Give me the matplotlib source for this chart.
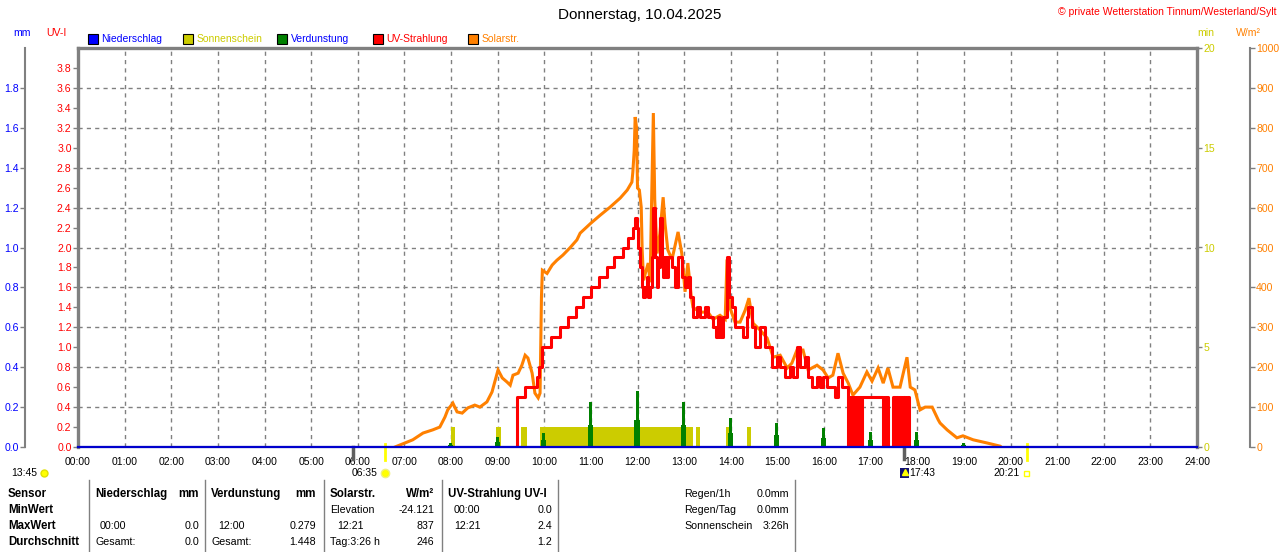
import matplotlib
matplotlib.use("Agg")
import matplotlib.pyplot as plt
from matplotlib.patches import Rectangle
from matplotlib.lines import Line2D
from matplotlib.transforms import blended_transform_factory

plt.rcParams['font.family'] = ['Liberation Sans', 'DejaVu Sans']

# ---------------- data ----------------
hour_ticks = list(range(25))
hour_labels = ["00:00", "01:00", "02:00", "03:00", "04:00", "05:00", "06:00", "07:00",
               "08:00", "09:00", "10:00", "11:00", "12:00", "13:00", "14:00", "15:00",
               "16:00", "17:00", "18:00", "19:00", "20:00", "21:00", "22:00", "23:00", "24:00"]
uv_ticks = [0.0, 0.2, 0.4, 0.6, 0.8, 1.0, 1.2, 1.4, 1.6, 1.8, 2.0, 2.2, 2.4, 2.6, 2.8,
            3.0, 3.2, 3.4, 3.6, 3.8]
mm_ticks = [0.0, 0.2, 0.4, 0.6, 0.8, 1.0, 1.2, 1.4, 1.6, 1.8]
sun_ticks = [0, 5, 10, 15, 20]
solar_ticks = [0, 100, 200, 300, 400, 500, 600, 700, 800, 900, 1000]

# Solarstrahlung (hour, W/m2)
solar_points = [
    (6.80, 0), (6.84, 2), (7.01, 10), (7.18, 18), (7.40, 35), (7.61, 43), (7.76, 50),
    (7.87, 75), (7.93, 93), (8.04, 110), (8.13, 88), (8.24, 85), (8.36, 98), (8.51, 105),
    (8.62, 100), (8.77, 113), (8.88, 138), (8.99, 185), (9.01, 193), (9.10, 173),
    (9.20, 163), (9.27, 155), (9.33, 180), (9.44, 185), (9.52, 205), (9.59, 230),
    (9.65, 223), (9.74, 185), (9.80, 135), (9.87, 123), (9.91, 135), (9.94, 376),
    (9.96, 443), (10.06, 435), (10.17, 456), (10.27, 468), (10.40, 481), (10.55, 499),
    (10.70, 519), (10.77, 536), (11.00, 561), (11.20, 581), (11.41, 601), (11.63, 624),
    (11.78, 644), (11.88, 664), (11.90, 689), (11.93, 744), (11.95, 827), (11.98, 800),
    (12.00, 649), (12.04, 644), (12.08, 601), (12.10, 494), (12.13, 418), (12.17, 436),
    (12.23, 461), (12.27, 413), (12.30, 600), (12.34, 837), (12.37, 619), (12.42, 485),
    (12.48, 535), (12.55, 626), (12.59, 560), (12.65, 494), (12.74, 470), (12.87, 539),
    (12.95, 485), (13.02, 389), (13.08, 461), (13.15, 380), (13.19, 350), (13.34, 338),
    (13.51, 338), (13.62, 320), (13.77, 330), (13.88, 320), (13.92, 470), (13.98, 350),
    (14.09, 313), (14.20, 313), (14.31, 343), (14.39, 373), (14.48, 310), (14.63, 293),
    (14.78, 273), (14.91, 225), (15.06, 230), (15.21, 198), (15.31, 210), (15.42, 243),
    (15.55, 243), (15.66, 193), (15.85, 205), (15.98, 193), (16.09, 173), (16.19, 180),
    (16.30, 235), (16.41, 185), (16.52, 160), (16.62, 130), (16.77, 150), (16.92, 188),
    (17.03, 165), (17.16, 198), (17.27, 160), (17.37, 198), (17.48, 150), (17.63, 150),
    (17.78, 225), (17.85, 150), (17.95, 143), (18.06, 93), (18.17, 100), (18.32, 100),
    (18.45, 68), (18.49, 60), (18.64, 43), (18.85, 23), (18.98, 28), (19.20, 18),
    (19.50, 10), (19.78, 2), (19.80, 0),
]

# UV-Strahlung (hour, UV-I), stepwise
uv_points = [
    (9.40, 0.0), (9.42, 0.5), (9.59, 0.6), (9.85, 0.7), (9.89, 0.8), (9.95, 1.0),
    (10.15, 1.1), (10.34, 1.2), (10.51, 1.3), (10.68, 1.4), (10.83, 1.5), (11.00, 1.6),
    (11.17, 1.7), (11.35, 1.8), (11.50, 1.9), (11.69, 2.0), (11.80, 2.1), (11.90, 2.2),
    (11.95, 2.3), (11.99, 2.2), (12.01, 2.0), (12.05, 1.8), (12.10, 1.6), (12.12, 1.5),
    (12.16, 1.6), (12.20, 1.7), (12.23, 1.5), (12.27, 1.6), (12.31, 1.9), (12.33, 2.4),
    (12.37, 1.9), (12.42, 1.6), (12.44, 1.8), (12.48, 2.3), (12.53, 1.9), (12.55, 1.7),
    (12.59, 1.9), (12.63, 1.7), (12.65, 1.9), (12.74, 1.8), (12.80, 1.6), (12.87, 1.9),
    (12.95, 1.7), (13.02, 1.6), (13.08, 1.7), (13.13, 1.5), (13.19, 1.3), (13.28, 1.4),
    (13.34, 1.3), (13.45, 1.4), (13.51, 1.3), (13.62, 1.2), (13.68, 1.1), (13.73, 1.3),
    (13.77, 1.1), (13.83, 1.3), (13.92, 1.9), (13.96, 1.5), (14.03, 1.4), (14.09, 1.2),
    (14.20, 1.2), (14.26, 1.1), (14.35, 1.3), (14.37, 1.4), (14.46, 1.2), (14.52, 1.0),
    (14.63, 1.2), (14.73, 1.0), (14.89, 0.8), (14.99, 0.9), (15.06, 0.8), (15.16, 0.7),
    (15.27, 0.8), (15.34, 0.7), (15.42, 1.0), (15.49, 0.8), (15.59, 0.9), (15.66, 0.7),
    (15.74, 0.6), (15.85, 0.7), (15.91, 0.6), (15.98, 0.7), (16.06, 0.6), (16.24, 0.5),
    (16.30, 0.7), (16.39, 0.6), (16.52, 0.0), (16.55, 0.5), (16.58, 0.0), (16.62, 0.5),
    (16.66, 0.0), (16.70, 0.5), (16.73, 0.0), (16.76, 0.5), (16.79, 0.0), (16.82, 0.5),
    (17.27, 0.0), (17.30, 0.5), (17.33, 0.0), (17.36, 0.5), (17.38, 0.0), (17.48, 0.5),
    (17.52, 0.0), (17.55, 0.5), (17.58, 0.0), (17.62, 0.5), (17.65, 0.0), (17.70, 0.5),
    (17.74, 0.0), (17.78, 0.5), (17.82, 0.0),
]

# Verdunstung (mm) spikes
evap_t = [7.98, 8.99, 9.99, 11.00, 11.99, 12.99, 14.00, 14.99, 15.99, 16.99, 17.99, 18.99]
evap_peak = [0.02, 0.05, 0.07, 0.225, 0.279, 0.225, 0.145, 0.12, 0.095, 0.075, 0.075, 0.02]
evap_base = [0.01, 0.025, 0.035, 0.11, 0.135, 0.11, 0.07, 0.06, 0.045, 0.035, 0.035, 0.01]

# Sonnenschein (min per minute) segments
sun_start = [8.00, 8.97, 9.50, 9.91, 13.25, 13.90, 14.35, 17.78]
sun_end = [8.09, 9.07, 9.63, 13.18, 13.34, 13.96, 14.43, 17.82]
sun_minutes = [1.0, 1.0, 1.0, 1.0, 1.0, 1.0, 1.0, 1.0]

# Niederschlag (mm)
rain_t = [0.0, 24.0]
rain_mm = [0.0, 0.0]

# astronomical markers
sunrise_h, sunset_h = 6.583, 20.35
moonset_h, moonrise_h = 5.90, 17.717

# ---------------- figure ----------------
W, H = 1280, 552
fig = plt.figure(figsize=(W / 100, H / 100), dpi=100)
fig.patch.set_facecolor('white')


def fx(x):
    return x / W


def fy(y):
    return 1 - y / H


GRAY = '#808080'
RED = '#FF0000'
ORANGE = '#FF8000'
YEL = '#CCCC00'
GREEN = '#008000'
BLUE = '#0000FF'
TFS = 7.6

L, R, B, T = 78, 1197, 447, 48
ax = fig.add_axes([fx(L), fy(B), (R - L) / W, (B - T) / H])
ax.set_xlim(0, 24)
ax.set_ylim(0, 4)
ax.set_xticks(hour_ticks)
ax.set_xticklabels(hour_labels)
ax.tick_params(axis='x', length=0, pad=7, labelsize=7.5)
ax.set_yticks(uv_ticks)
ax.set_yticklabels([f"{v:.1f}" for v in uv_ticks])
ax.tick_params(axis='y', length=3.6, width=1, color=GRAY, pad=1, labelsize=TFS, labelcolor=RED)
ax.grid(axis='x', color=GRAY, linestyle=(0, (3, 3)), linewidth=1)
for gy in [0.4, 0.8, 1.2, 1.6, 2.0, 2.4, 2.8, 3.2, 3.6]:
    ax.axhline(gy, color=GRAY, linestyle=(0, (3, 3)), linewidth=1, zorder=0.5)
for side in ['left', 'right', 'top']:
    ax.spines[side].set_color(GRAY)
    ax.spines[side].set_linewidth(2.4)
ax.spines['bottom'].set_color(GRAY)
ax.spines['bottom'].set_linewidth(1.5)
ax.set_zorder(0)

# sunshine axis (right, at plot edge)
ax_sun = ax.twinx()
ax_sun.set_ylim(0, 20)
ax_sun.set_yticks(sun_ticks)
ax_sun.set_yticklabels([str(v) for v in sun_ticks])
ax_sun.tick_params(axis='y', length=3.6, width=1, color=GRAY, pad=1, labelsize=TFS, labelcolor=YEL)
for s in ax_sun.spines.values():
    s.set_visible(False)
ax_sun.bar(sun_start, sun_minutes, width=[e - s for s, e in zip(sun_start, sun_end)],
           align='edge', color=YEL, linewidth=0)
ax_sun.set_zorder(1)

# solar axis (right, outward)
ax_sol = ax.twinx()
ax_sol.set_ylim(0, 1000)
ax_sol.set_yticks(solar_ticks)
ax_sol.set_yticklabels([str(v) for v in solar_ticks])
ax_sol.tick_params(axis='y', length=3.6, width=1, color=GRAY, pad=1, labelsize=TFS,
                   labelcolor=ORANGE)
for k, s in ax_sol.spines.items():
    s.set_visible(k == 'right')
ax_sol.spines['right'].set_position(('outward', 38))
ax_sol.spines['right'].set_color(GRAY)
ax_sol.spines['right'].set_linewidth(1.5)
st, sv = zip(*solar_points)
ax_sol.plot(st, sv, color=ORANGE, linewidth=2.2, solid_joinstyle='miter')
ax_sol.set_zorder(2)

# UV line axis (same scale as host)
ax_uv = ax.twinx()
ax_uv.set_ylim(0, 4)
ax_uv.set_yticks([])
for s in ax_uv.spines.values():
    s.set_visible(False)
ut, uvv = zip(*uv_points)
ax_uv.plot(ut, uvv, color=RED, linewidth=2.2, drawstyle='steps-post')
ax_uv.set_zorder(3)

# mm axis (left, outward)
ax_mm = ax.twinx()
ax_mm.set_ylim(0, 2)
ax_mm.yaxis.set_ticks_position('left')
ax_mm.yaxis.set_label_position('left')
ax_mm.set_yticks(mm_ticks)
ax_mm.set_yticklabels([f"{v:.1f}" for v in mm_ticks])
ax_mm.tick_params(axis='y', which='both', left=True, right=False, labelleft=True,
                  labelright=False, length=3.6, width=1, color=GRAY, pad=1,
                  labelsize=TFS, labelcolor=BLUE)
for k, s in ax_mm.spines.items():
    s.set_visible(k == 'left')
ax_mm.spines['left'].set_position(('outward', 38))
ax_mm.spines['left'].set_color(GRAY)
ax_mm.spines['left'].set_linewidth(1.5)
ax_mm.bar(evap_t, evap_base, width=0.11, color=GREEN, linewidth=0)
ax_mm.bar(evap_t, evap_peak, width=0.065, color=GREEN, linewidth=0)
ax_mm.plot(rain_t, rain_mm, color='#0000CC', linewidth=1.6, clip_on=False)
ax_mm.set_zorder(4)

# markers below the x axis
tr = blended_transform_factory(ax.transData, ax.transAxes)
for h in [moonset_h, moonrise_h]:
    ax.plot([h, h], [0.0, -0.03], color='#606060', linewidth=2.5, transform=tr, clip_on=False)
for h in [sunrise_h, sunset_h]:
    ax.plot([h, h], [0.008, -0.033], color='#FFFF00', linewidth=2, transform=tr, clip_on=False)

# ---------------- texts ----------------
fig.text(0.5, fy(15), "Donnerstag, 10.04.2025", ha='center', va='center', fontsize=11)
fig.text(fx(1277), fy(12), "© private Wetterstation Tinnum/Westerland/Sylt", ha='right',
         va='center', fontsize=7.5, color=RED)
fig.text(fx(22), fy(33), "mm", ha='center', va='center', fontsize=TFS, color=BLUE)
fig.text(fx(56), fy(33), "UV-I", ha='center', va='center', fontsize=TFS, color=RED)
fig.text(fx(1206), fy(33), "min", ha='center', va='center', fontsize=TFS, color=YEL)
fig.text(fx(1248), fy(33), "W/m²", ha='center', va='center', fontsize=TFS, color=ORANGE)

legend = [("Niederschlag", BLUE, BLUE, 87.5), ("Sonnenschein", YEL, YEL, 182.5),
          ("Verdunstung", GREEN, BLUE, 277), ("UV-Strahlung", RED, RED, 372.5),
          ("Solarstr.", ORANGE, ORANGE, 468)]
for name, fc, tc, x0 in legend:
    fig.add_artist(Rectangle((fx(x0), fy(44)), 10 / W, 10 / H, transform=fig.transFigure,
                             facecolor=fc, edgecolor='black', linewidth=0.8))
    fig.text(fx(x0 + 14), fy(38.5), name, ha='left', va='center', fontsize=7.5, color=tc)

# sun / moon labels
fig.text(fx(37.5), fy(473), "13:45", ha='right', va='center', fontsize=7.5)
fig.add_artist(Line2D([fx(44)], [fy(473)], marker='o', markersize=5, color='#FFFF00',
                      markeredgecolor='#E0E000', transform=fig.transFigure))
fig.text(fx(378), fy(473), "06:35", ha='right', va='center', fontsize=7.5)
fig.add_artist(Line2D([fx(385)], [fy(473)], marker='o', markersize=6, color='#FFFF00',
                      markeredgecolor='#F0F080', transform=fig.transFigure))
fig.add_artist(Rectangle((fx(900), fy(478)), 9 / W, 10 / H, transform=fig.transFigure,
                         facecolor='#101070', edgecolor='none'))
fig.add_artist(Line2D([fx(905)], [fy(472)], marker='^', markersize=4, color='#FFFF00',
                      transform=fig.transFigure))
fig.text(fx(909), fy(473), "17:43", ha='left', va='center', fontsize=7.5)
fig.text(fx(1020), fy(473), "20:21", ha='right', va='center', fontsize=7.5)
fig.add_artist(Rectangle((fx(1024), fy(476)), 5 / W, 5 / H, transform=fig.transFigure,
                         facecolor='white', edgecolor='#FFFF00', linewidth=1))

# ---------------- table ----------------
for xs in [89, 205, 324, 442, 558, 795]:
    fig.add_artist(Line2D([fx(xs), fx(xs)], [fy(480), fy(552)], color=GRAY, linewidth=1,
                          transform=fig.transFigure))

rows_y = [494, 510, 526, 542]
BF = 8.3
RF = 7.7
for lab, yy in zip(["Sensor", "MinWert", "MaxWert", "Durchschnitt"], rows_y):
    fig.text(fx(8), fy(yy), lab, ha='left', va='center', fontsize=BF, fontweight='bold')

cells = [
    # (x, y, text, ha, bold)
    (95, 494, "Niederschlag", 'left', True), (199, 494, "mm", 'right', True),
    (100, 526, "00:00", 'left', False), (199, 526, "0.0", 'right', False),
    (95, 542, "Gesamt:", 'left', False), (199, 542, "0.0", 'right', False),
    (211, 494, "Verdunstung", 'left', True), (316, 494, "mm", 'right', True),
    (218, 526, "12:00", 'left', False), (316, 526, "0.279", 'right', False),
    (211, 542, "Gesamt:", 'left', False), (316, 542, "1.448", 'right', False),
    (330, 494, "Solarstr.", 'left', True), (434, 494, "W/m²", 'right', True),
    (330, 510, "Elevation", 'left', False), (434, 510, "-24.121", 'right', False),
    (337, 526, "12:21", 'left', False), (434, 526, "837", 'right', False),
    (330, 542, "Tag:3:26 h", 'left', False), (434, 542, "246", 'right', False),
    (448, 494, "UV-Strahlung UV-I", 'left', True),
    (454, 510, "00:00", 'left', False), (552, 510, "0.0", 'right', False),
    (454, 526, "12:21", 'left', False), (552, 526, "2.4", 'right', False),
    (552, 542, "1.2", 'right', False),
    (684, 494, "Regen/1h", 'left', False), (789, 494, "0.0mm", 'right', False),
    (684, 510, "Regen/Tag", 'left', False), (789, 510, "0.0mm", 'right', False),
    (684, 526, "Sonnenschein", 'left', False), (789, 526, "3:26h", 'right', False),
]
for x, y, t, ha, bold in cells:
    fig.text(fx(x), fy(y), t, ha=ha, va='center', fontsize=BF if bold else RF,
             fontweight='bold' if bold else 'normal')

fig.savefig("out.png", dpi=100, facecolor='white')
